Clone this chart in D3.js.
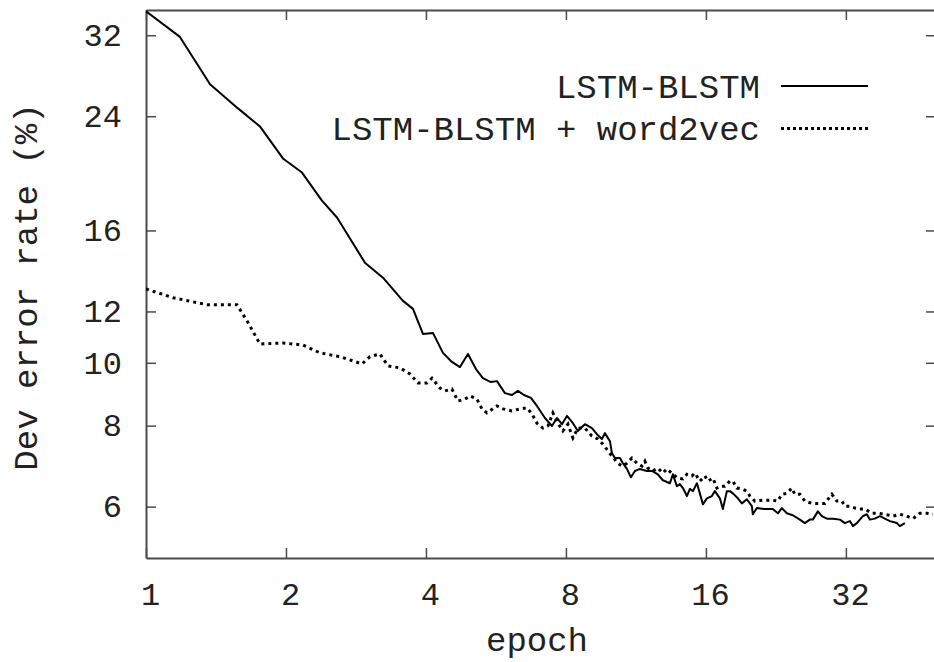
<!DOCTYPE html>
<html><head><meta charset="utf-8">
<script src="https://cdn.jsdelivr.net/npm/d3@7"></script>
<style>
body{margin:0;background:#fff}
text{font-family:"Liberation Mono","Courier New",monospace;fill:#222}
</style>
</head><body><svg id="c" width="934" height="662"></svg>
<script>
const xTicks=[1,2,4,8,16,32];
const yTicks=[6,8,10,12,16,24,32];
const seriesNames=["LSTM-BLSTM","LSTM-BLSTM + word2vec"];
const xLabel="epoch";
const yLabel="Dev error rate (%)";

const lstmEpoch=[1,1.183,1.373,1.577,1.758,1.970,2.165,2.390,2.575,2.957,3.233,3.570,3.751,3.941,4.141,4.351,4.549,4.733,4.925,5.124,5.304,5.518,5.685,5.915,6.123,6.308,6.498,6.727,6.930,7.210,7.464,7.651,7.843,8.040,8.282,8.488,8.788,9.098,9.326,9.560,9.704,9.947,10.046,10.196,10.452,10.608,10.820,11.037,11.258,11.540,11.945,12.245,12.613,12.929,13.386,13.588,13.859,14.067,14.277,14.563,14.781,15.003,15.303,15.529,15.762,16.079,16.481,16.728,17.148,17.404,17.753,18.016,18.286,18.744,19.118,19.597,20.089,20.188,20.596,21.427,22.281,22.849,23.307,23.890,24.611,25.478,26.115,26.770,27.170,27.858,28.416,29.127,30.005,31.065,31.843,32.641,33.128,33.789,34.297,34.810,35.506,36.041,36.945,37.871,38.821,39.790,41.194,41.810,42.858];
const lstmErr=[34.85,31.81,26.88,24.68,23.15,20.66,19.65,17.79,16.75,14.27,13.53,12.46,12.11,11.08,11.12,10.36,10.03,9.85,10.32,9.78,9.47,9.34,9.37,8.98,8.92,9.05,8.92,8.83,8.58,8.22,7.99,8.22,8.04,8.28,8.07,7.85,8.04,7.93,7.76,7.63,7.79,7.57,7.26,7.13,7.13,7.00,6.86,6.66,6.81,6.86,6.81,6.81,6.73,6.59,6.52,6.73,6.45,6.50,6.41,6.23,6.39,6.34,6.52,6.29,6.05,6.18,6.23,6.34,6.18,5.95,6.34,6.34,6.29,6.18,6.07,6.16,6.01,5.84,5.97,5.95,5.95,5.86,5.97,5.86,5.82,5.73,5.66,5.73,5.73,5.90,5.80,5.75,5.75,5.73,5.66,5.70,5.60,5.66,5.73,5.80,5.84,5.73,5.75,5.80,5.75,5.70,5.66,5.60,5.66];

const w2vEpoch=[1,1.143,1.353,1.569,1.649,1.758,1.970,2.176,2.366,2.613,2.914,3.031,3.185,3.314,3.517,3.696,3.845,4.020,4.121,4.287,4.394,4.549,4.687,4.852,4.974,5.149,5.278,5.410,5.685,5.856,6.123,6.371,6.595,6.761,6.930,7.138,7.318,7.501,7.689,7.882,8.080,8.282,8.488,8.788,9.098,9.372,9.608,10.046,10.348,10.556,10.820,11.092,11.370,11.655,11.827,12.004,12.306,12.613,12.929,13.188,13.588,13.928,14.277,14.563,14.929,15.152,15.529,15.919,16.159,16.564,16.895,17.148,17.578,18.016,18.286,18.651,19.118,19.597,19.890,20.393,21.216,22.171,22.849,23.307,23.890,24.489,24.854,25.478,26.115,27.036,27.858,28.840,29.857,30.608,31.374,31.843,32.641,33.457,34.297,35.156,36.400,37.498,38.821,40.385,41.810,43.286,44.593,46.164,47.790,49.230];
const w2vErr=[13.00,12.60,12.29,12.29,11.61,10.69,10.73,10.65,10.36,10.22,9.96,10.22,10.32,9.89,9.82,9.61,9.31,9.31,9.47,9.14,9.05,9.11,8.73,8.79,8.89,8.79,8.49,8.37,8.58,8.49,8.43,8.49,8.52,8.34,8.07,7.93,7.99,8.37,8.07,7.85,8.04,7.66,7.93,7.93,7.71,7.63,7.49,7.18,7.00,6.93,7.00,7.13,7.00,6.93,7.05,6.88,6.81,6.88,6.76,6.86,6.73,6.64,6.62,6.73,6.69,6.76,6.57,6.69,6.57,6.64,6.41,6.45,6.45,6.57,6.57,6.41,6.39,6.34,6.23,6.12,6.14,6.14,6.12,6.27,6.29,6.41,6.27,6.27,6.12,6.07,6.07,6.07,6.27,6.12,6.12,6.01,6.01,5.97,5.95,5.95,5.86,5.86,5.84,5.80,5.84,5.80,5.75,5.86,5.86,5.84];

const svg=d3.select("#c");
const L=146,R=936,T=10,B=558;
const x=d3.scaleLog().base(2).domain([1,50]).range([L,R]);
const y=d3.scaleLog().domain([5,35]).range([B,T]);
const axisColor="#4a4a4a";

function styleAxis(g){
  g.select(".domain").attr("stroke",axisColor).attr("stroke-width",2);
  g.selectAll(".tick line").attr("stroke",axisColor).attr("stroke-width",1.5);
  g.selectAll(".tick text").attr("fill","#222").style("font-family",'"Liberation Mono","Courier New",monospace');
}

const gx=svg.append("g").attr("transform",`translate(0,${B})`)
  .call(d3.axisBottom(x).tickValues(xTicks).tickFormat(d=>String(d)).tickSize(-10).tickSizeOuter(0).tickPadding(24));
gx.selectAll(".tick text").attr("font-size",32).attr("dx",4);
styleAxis(gx);

const gxt=svg.append("g").attr("transform",`translate(0,${T})`)
  .call(d3.axisTop(x).tickValues(xTicks).tickFormat("").tickSize(-10).tickSizeOuter(0));
styleAxis(gxt);

const gy=svg.append("g").attr("transform",`translate(${L},0)`)
  .call(d3.axisLeft(y).tickValues(yTicks).tickFormat(d=>String(d)).tickSize(-10).tickSizeOuter(0).tickPadding(24));
gy.selectAll(".tick text").attr("font-size",32);
styleAxis(gy);

const gyr=svg.append("g").attr("transform",`translate(${R},0)`)
  .call(d3.axisRight(y).tickValues(yTicks).tickFormat("").tickSize(-10).tickSizeOuter(0));
styleAxis(gyr);

svg.append("clipPath").attr("id","clip").append("rect").attr("x",L).attr("y",T).attr("width",R-L).attr("height",B-T);

const line=d3.line().x(d=>x(d[0])).y(d=>y(d[1]));
const lstm=lstmEpoch.map((e,i)=>[e,lstmErr[i]]);
const w2v=w2vEpoch.map((e,i)=>[e,w2vErr[i]]);

svg.append("path").attr("clip-path","url(#clip)").attr("d",line(w2v))
  .attr("fill","none").attr("stroke","#000").attr("stroke-width",3).attr("stroke-dasharray","3,4");
svg.append("path").attr("clip-path","url(#clip)").attr("d",line(lstm))
  .attr("fill","none").attr("stroke","#000").attr("stroke-width",2).attr("stroke-linejoin","round");

// legend
const lg=svg.append("g");
[0,1].forEach(i=>{
  const yy=[86,128.5][i];
  lg.append("text").attr("x",760).attr("y",yy).attr("dy","0.34em").attr("text-anchor","end")
    .attr("font-size",34).text(seriesNames[i]);
  const ln=lg.append("line").attr("x1",781).attr("x2",868).attr("y1",yy).attr("y2",yy)
    .attr("stroke","#000");
  if(i===0) ln.attr("stroke-width",2);
  else ln.attr("stroke-width",3).attr("stroke-dasharray","3,3");
});

svg.append("text").attr("x",(L+934)/2-3).attr("y",651).attr("text-anchor","middle").attr("font-size",34).text(xLabel);
svg.append("text").attr("transform","translate(37,287) rotate(-90)").attr("text-anchor","middle").attr("font-size",34).text(yLabel);
</script>
</body></html>
